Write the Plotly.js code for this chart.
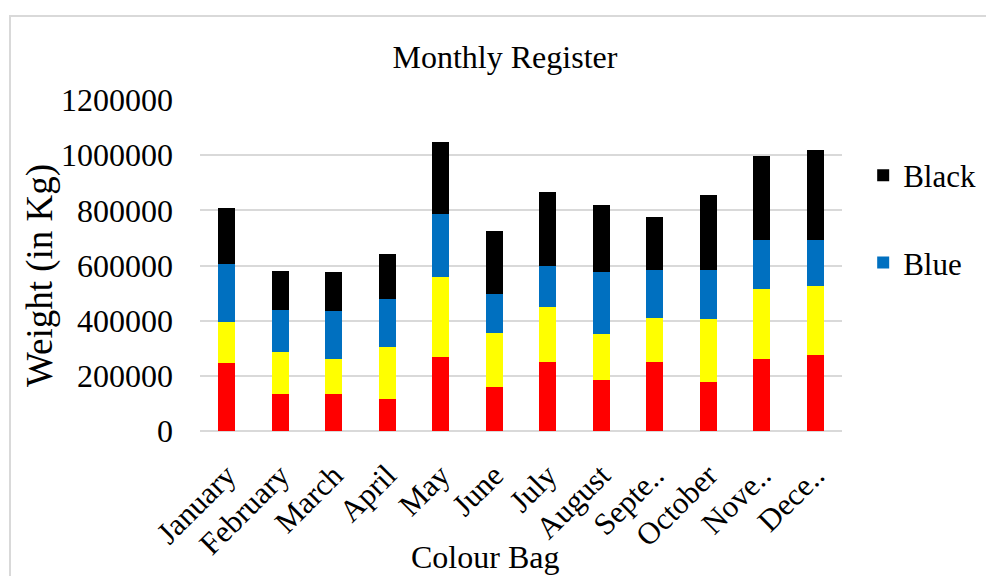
<!DOCTYPE html>
<html>
<head>
<meta charset="utf-8">
<script src="https://cdn.plot.ly/plotly-3.0.1.min.js"></script>
<style>
  html, body { margin: 0; padding: 0; overflow: hidden; background: #ffffff; }
  #chart { position: absolute; left: 0; top: 0; width: 986px; height: 576px; }
  #frame { position: absolute; left: 9px; top: 15px; width: 1200px; height: 800px;
           border: 2px solid #d9d9d9; pointer-events: none; }
</style>
</head>
<body>
<div id="chart"></div>
<div id="frame"></div>
<script>
const months = ["January", "February", "March", "April", "May", "June", "July",
                "August", "Septe..", "October", "Nove..", "Dece.."];
const red    = [245000, 135000, 135000, 115000, 268000, 158000, 249000, 184000, 250000, 177000, 260000, 276000];
const yellow = [149000, 150000, 126000, 189000, 290000, 197000, 200000, 169000, 160000, 229000, 255000, 251000];
const blue   = [212000, 154000, 173000, 176000, 227000, 142000, 150000, 222000, 174000, 177000, 178000, 166000];
const black  = [203000, 141000, 142000, 161000, 264000, 228000, 268000, 246000, 192000, 273000, 305000, 327000];

const FONT = "Liberation Serif, Times New Roman, serif";

function bar(name, vals, color, show, rank) {
  return {
    type: "bar", name: name, x: months, y: vals,
    marker: { color: color, line: { width: 0 } },
    legendgroup: name, legendrank: rank, showlegend: show, hoverinfo: "skip"
  };
}

const data = [
  bar("Red", red, "#ff0000", false, 4),
  bar("Yellow", yellow, "#ffff00", false, 3),
  bar("Blue", blue, "#0070c0", true, 2),
  bar("Black", black, "#000000", true, 1)
];

const layout = {
  width: 986, height: 576,
  margin: { l: 200, r: 144, t: 100, b: 145, pad: 0, autoexpand: false },
  paper_bgcolor: "#ffffff", plot_bgcolor: "#ffffff",
  barmode: "stack", bargap: 0.68,
  font: { family: FONT, size: 30, color: "#000000" },
  title: { text: "Monthly Register", font: { family: FONT, size: 32, color: "#000000" },
           x: 0.475, xref: "paper", xanchor: "center", y: 0.901, yref: "container", yanchor: "middle" },
  xaxis: {
    type: "category", tickangle: -45, showgrid: false, showline: false, ticks: "",
    tickfont: { family: FONT, size: 31, color: "#000000" }, ticklabelstandoff: 19,
    automargin: false, fixedrange: true
  },
  yaxis: {
    range: [0, 1200000], dtick: 200000, tickformat: "d",
    showgrid: true, gridcolor: "#d9d9d9", gridwidth: 2,
    zeroline: true, zerolinecolor: "#d9d9d9", zerolinewidth: 2,
    showline: false, ticks: "", ticklabelstandoff: 26,
    tickfont: { family: FONT, size: 32, color: "#000000" }, automargin: false, fixedrange: true
  },
  legend: {
    x: 1.033, xanchor: "left", y: 0.853, yanchor: "top",
    traceorder: "grouped", tracegroupgap: 44,
    font: { family: FONT, size: 31, color: "#000000" },
    bgcolor: "rgba(0,0,0,0)", borderwidth: 0
  },
  annotations: [
    { text: "Weight (in Kg)", xref: "paper", yref: "paper", x: (40 - 200) / 642, y: (431 - 276) / 331,
      xanchor: "center", yanchor: "middle", textangle: -90, showarrow: false,
      font: { family: FONT, size: 37, color: "#000000" } },
    { text: "Colour Bag", xref: "paper", yref: "paper", x: (485 - 200) / 642, y: (431 - 557) / 331,
      xanchor: "center", yanchor: "middle", showarrow: false,
      font: { family: FONT, size: 32, color: "#000000" } }
  ],
  showlegend: true
};

Plotly.newPlot("chart", data, layout, { displayModeBar: false, staticPlot: true });
</script>
</body>
</html>
